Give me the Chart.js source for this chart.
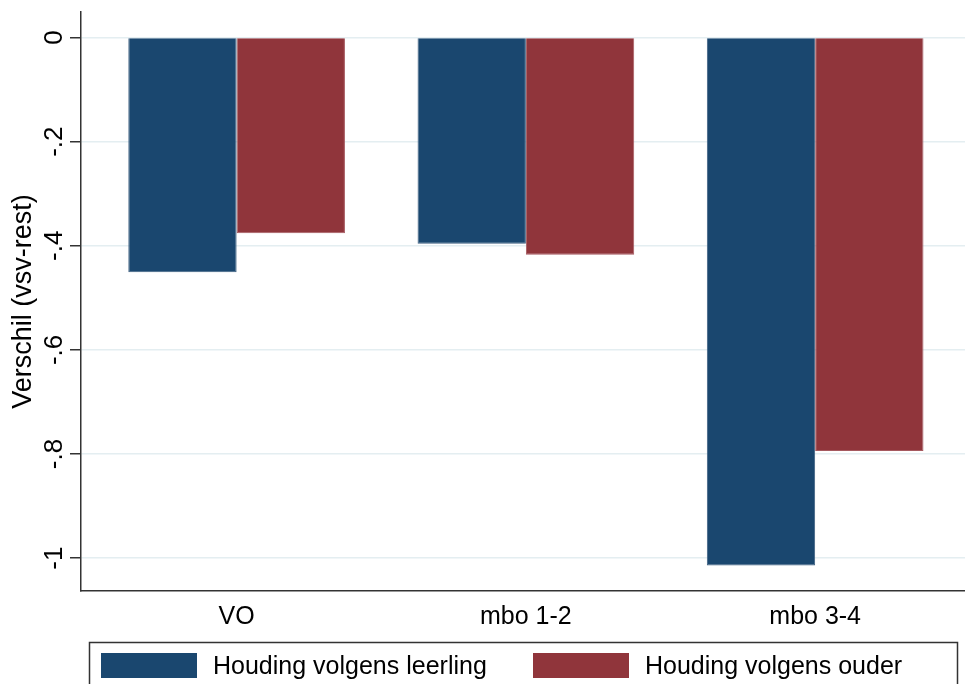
<!DOCTYPE html>
<html>
<head>
<meta charset="utf-8">
<script src="https://cdn.jsdelivr.net/npm/chart.js@4/dist/chart.umd.min.js"></script>
<style>
  html, body { margin: 0; padding: 0; background: #fff; overflow: hidden; }
  #wrap { width: 965px; height: 684px; position: relative; }
</style>
</head>
<body>
<div id="wrap"><canvas id="myBarChart"></canvas></div>
<script>
// Data
const categories = ['VO', 'mbo 1-2', 'mbo 3-4'];
const leerling = [-0.451, -0.396, -1.014];
const ouder = [-0.376, -0.417, -0.794];
const seriesNames = ['Houding volgens leerling', 'Houding volgens ouder'];
const yTicks = [0, -0.2, -0.4, -0.6, -0.8, -1];
const yTickLabels = ['0', '-.2', '-.4', '-.6', '-.8', '-1'];

const FONT = '"Liberation Sans", Arial, sans-serif';
const navy = '#1a476f';
const maroon = '#90353b';

// Stata-like legend: outlined box with two columns
const boxLegend = {
  id: 'boxLegend',
  afterDraw(chart) {
    const ctx = chart.ctx;
    const top = chart.chartArea.bottom + 51;
    ctx.save();
    ctx.strokeStyle = '#333';
    ctx.lineWidth = 1.5;
    ctx.strokeRect(89.5, top + 0.5, 868, 80);
    ctx.font = '25px ' + FONT;
    ctx.textBaseline = 'middle';
    ctx.textAlign = 'left';
    chart.data.datasets.forEach((ds, i) => {
      const x = 101 + i * 432;
      ctx.fillStyle = ds.backgroundColor;
      ctx.fillRect(x, top + 11, 96, 25);
      ctx.fillStyle = '#000';
      ctx.fillText(ds.label, x + 112, top + 25);
    });
    ctx.restore();
  }
};

const ctx = document.getElementById('myBarChart').getContext('2d');

const data = {
  datasets: [{
    label: seriesNames[0],
    data: categories.map((c, i) => ({ x: i, y: leerling[i] })),
    backgroundColor: navy,
    borderColor: '#3d5f80',
    borderWidth: 1
  }, {
    label: seriesNames[1],
    data: categories.map((c, i) => ({ x: i, y: ouder[i] })),
    backgroundColor: maroon,
    borderColor: '#a65a60',
    borderWidth: 1
  }]
};

const config = {
  type: 'bar',
  data: data,
  plugins: [boxLegend],
  options: {
    responsive: true,
    maintainAspectRatio: false,
    animation: false,
    categoryPercentage: 0.749,
    barPercentage: 1,
    layout: { padding: { top: 12, right: 0, bottom: 43, left: 0 } },
    plugins: {
      legend: { display: false },
      tooltip: { enabled: false }
    },
    scales: {
      x: {
        type: 'linear',
        offset: false,
        min: -0.538,
        max: 2.518,
        grid: { display: false, drawTicks: false },
        border: { color: '#333', width: 1.5 },
        afterBuildTicks: s => { s.ticks = categories.map((c, i) => ({ value: i })); },
        ticks: {
          callback: v => categories[v],
          font: { family: FONT, size: 25 },
          color: '#000',
          padding: 11,
          maxRotation: 0,
          autoSkip: false
        },
        afterFit: s => { s.height = 50; s.paddingLeft = 0; s.paddingRight = 0; }
      },
      y: {
        min: -1.063,
        max: 0.049,
        afterBuildTicks: s => { s.ticks = yTicks.map(v => ({ value: v })); },
        ticks: {
          callback: v => yTickLabels[yTicks.indexOf(v)],
          minRotation: 90,
          maxRotation: 90,
          crossAlign: 'center',
          padding: 0,
          font: { family: FONT, size: 26 },
          color: '#000'
        },
        grid: { color: '#e4eef1', lineWidth: 1.5, tickColor: '#333', tickLength: 11, tickWidth: 1.5 },
        border: { color: '#333', width: 1.5 },
        title: {
          display: true,
          text: 'Verschil (vsv-rest)',
          font: { family: FONT, size: 27, lineHeight: 1 },
          color: '#000',
          padding: { top: 10, bottom: 0 }
        },
        afterFit: s => { s.width = 81; s.paddingTop = 0; s.paddingBottom = 0; }
      }
    }
  }
};

new Chart(ctx, config);
</script>
</body>
</html>
